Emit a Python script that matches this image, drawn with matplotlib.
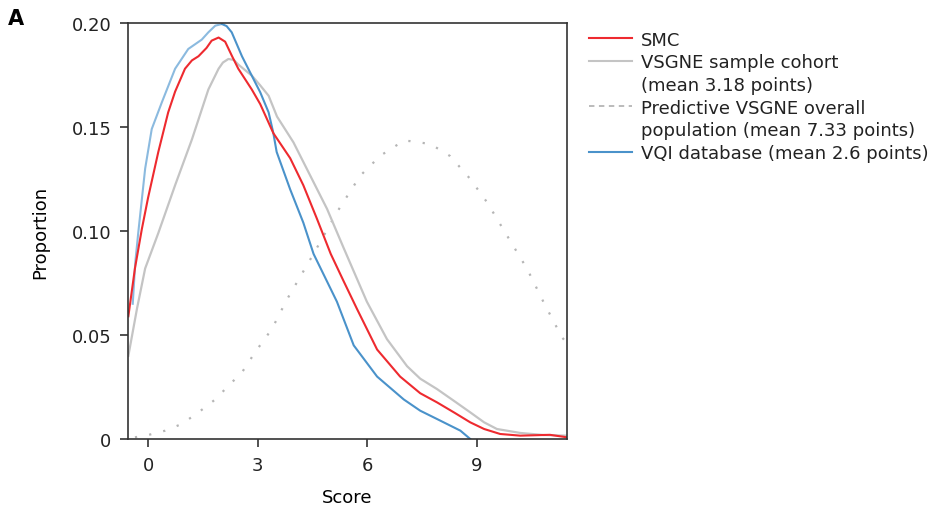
import matplotlib
matplotlib.use("Agg")
import matplotlib.pyplot as plt
from matplotlib.lines import Line2D

plt.rcParams['font.family'] = ['DejaVu Sans']

# SMC
smc_x = [-0.54, -0.36, -0.17, 0.0, 0.28, 0.55, 0.74, 1.01, 1.2, 1.38, 1.6, 1.74, 1.93,
         2.11, 2.3, 2.47, 2.84, 3.07, 3.43, 3.89, 4.25, 4.62, 5.0, 5.35, 5.72, 6.27,
         6.9, 7.45, 7.91, 8.4, 8.82, 9.2, 9.64, 10.19, 11.0, 11.47]
smc_y = [0.059, 0.082, 0.101, 0.116, 0.138, 0.157, 0.167, 0.178, 0.182, 0.184, 0.188,
         0.1915, 0.193, 0.191, 0.184, 0.178, 0.168, 0.161, 0.147, 0.135, 0.122, 0.106,
         0.089, 0.076, 0.0625, 0.043, 0.030, 0.022, 0.0176, 0.0125, 0.008, 0.0048,
         0.0024, 0.0016, 0.002, 0.0008]

# VSGNE sample cohort
vs_x = [-0.54, -0.3, -0.08, 0.28, 0.74, 1.2, 1.65, 1.93, 2.05, 2.2, 2.35, 2.47, 2.84,
        3.07, 3.3, 3.53, 3.98, 4.44, 4.9, 5.35, 5.99, 6.54, 7.09, 7.45, 7.91, 8.4,
        8.82, 9.2, 9.55, 10.19, 10.83, 11.47]
vs_y = [0.040, 0.063, 0.082, 0.099, 0.122, 0.144, 0.168, 0.178, 0.181, 0.1827, 0.1822,
        0.180, 0.1747, 0.170, 0.165, 0.155, 0.1426, 0.1266, 0.1106, 0.092, 0.066,
        0.048, 0.035, 0.029, 0.024, 0.018, 0.0128, 0.008, 0.0048, 0.0029, 0.0019,
        0.0016]

# Predictive VSGNE overall population
pred_x = [-0.36, 0.0, 0.47, 0.92, 1.38, 1.84, 2.2, 2.57, 2.93, 3.39, 3.8, 4.53, 5.17,
          5.81, 6.36, 7.0, 7.18, 7.73, 8.27, 8.82, 9.28, 9.83, 10.38, 10.83, 11.33, 11.47]
pred_y = [0.0008, 0.0019, 0.004, 0.0072, 0.0128, 0.019, 0.0256, 0.032, 0.0417, 0.0529,
          0.067, 0.089, 0.109, 0.1266, 0.1362, 0.1434, 0.1432, 0.1418, 0.136, 0.125,
          0.1138, 0.0977, 0.0817, 0.0657, 0.0489, 0.046]

# VQI database
vqi_x = [-0.42, -0.35, -0.27, -0.08, 0.1, 0.38, 0.74, 1.1, 1.47, 1.65, 1.84, 2.02, 2.15,
         2.29, 2.57, 2.93, 3.07, 3.3, 3.43, 3.52, 3.89, 4.25, 4.53, 5.17, 5.63, 6.27,
         7.0, 7.45, 7.91, 8.55, 8.82]
vqi_y = [0.065, 0.085, 0.099, 0.13, 0.149, 0.162, 0.178, 0.1875, 0.192, 0.1955, 0.1987,
         0.1995, 0.1985, 0.1955, 0.184, 0.1715, 0.1667, 0.157, 0.147, 0.138, 0.12,
         0.104, 0.089, 0.066, 0.045, 0.030, 0.019, 0.0136, 0.0096, 0.004, 0.0]
vqi_peak = vqi_y.index(max(vqi_y))

labels = ['SMC', 'VSGNE sample cohort', '(mean 3.18 points)',
          'Predictive VSGNE overall', 'population (mean 7.33 points)',
          'VQI database (mean 2.6 points)']

x_ticks = [0, 3, 6, 9]
y_ticks = [0, 0.05, 0.10, 0.15, 0.20]
y_tick_labels = ['0', '0.05', '0.10', '0.15', '0.20']

red = '#ee2a2f'
gray = '#c4c4c4'
dot_gray = '#b5b5b5'
blue = '#4a92ca'
light_blue = '#8bbadf'

fig = plt.figure(figsize=(9.46, 5.10), dpi=100)
ax = fig.add_axes([0.1353, 0.1373, 0.4641, 0.8157])

ax.plot(pred_x, pred_y, color=dot_gray, linewidth=1.6, linestyle=(0, (1, 5.5)))
ax.plot(vs_x, vs_y, color=gray, linewidth=1.6)
# rising part of the VQI curve is drawn lighter in the source figure
ax.plot(vqi_x[:vqi_peak + 1], vqi_y[:vqi_peak + 1], color=light_blue, linewidth=1.5)
ax.plot(vqi_x[vqi_peak:], vqi_y[vqi_peak:], color=blue, linewidth=1.5)
ax.plot(smc_x, smc_y, color=red, linewidth=1.5)

ax.set_xlim(-0.55, 11.47)
ax.set_ylim(0, 0.20)
ax.set_xticks(x_ticks)
ax.set_yticks(y_ticks)
ax.set_yticklabels(y_tick_labels)
ax.tick_params(direction='out', length=6, width=1.1, pad=6, labelsize=13,
               colors='#222222')
for s in ax.spines.values():
    s.set_linewidth(1.2)
    s.set_color('#333333')
ax.set_xlabel('Score', fontsize=13, labelpad=10)
ax.set_ylabel('Proportion', fontsize=13, labelpad=16)

blank = Line2D([], [], color='none')
handles = [Line2D([], [], color=red, linewidth=1.5),
           Line2D([], [], color=gray, linewidth=1.5),
           blank,
           Line2D([], [], color=dot_gray, linewidth=1.3, linestyle=(0, (3, 2.5))),
           blank,
           Line2D([], [], color=blue, linewidth=1.5)]
leg = fig.legend(handles, labels, loc='upper left', bbox_to_anchor=(0.615, 0.952),
                 frameon=False, fontsize=13, handlelength=2.4, handletextpad=0.5,
                 labelspacing=0.26, borderaxespad=0)
for t in leg.get_texts():
    t.set_color('#222222')

fig.text(0.008, 0.962, 'A', fontsize=15, fontweight='bold', va='center', ha='left')

fig.savefig('out.png', dpi=100)
